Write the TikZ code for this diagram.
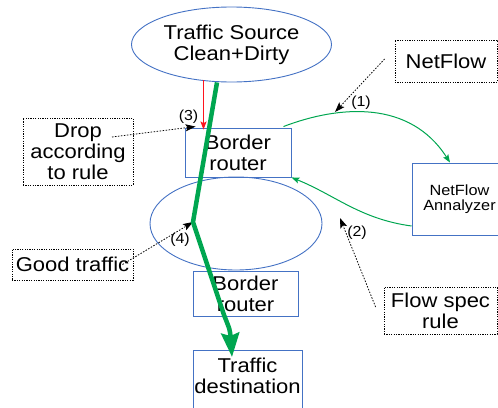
\documentclass[tikz,border=0pt]{standalone}
\usepackage{fontspec}
\setmainfont{Liberation Sans}[FakeStretch=1.1]
\usetikzlibrary{arrows.meta,calc,shapes.geometric}
\definecolor{bblue}{RGB}{68,114,196}
\definecolor{tgreen}{RGB}{0,166,80}
\definecolor{tred}{RGB}{255,20,30}
\begin{document}
\begin{tikzpicture}[x=1pt,y=-1pt,
  bigtxt/.style={font=\fontsize{20}{21}\selectfont, align=center, inner sep=0pt},
  smalltxt/.style={font=\fontsize{14.8}{15}\selectfont, align=center, inner sep=0pt},
  numtxt/.style={font=\fontsize{14.5}{15}\selectfont, inner sep=0pt},
  bluebox/.style={draw=bblue, line width=0.9pt, rectangle, inner sep=0pt},
  blueell/.style={draw=bblue, line width=0.9pt, ellipse, inner sep=0pt},
  dotbox/.style={draw=black, line width=0.8pt, dash pattern=on 1.2pt off 1.2pt, rectangle, inner sep=0pt},
  dotarrow/.style={black, line width=0.8pt, dash pattern=on 1.5pt off 1.5pt, -{Stealth[length=10pt,width=7pt,inset=2pt]}},
  thinarrow/.style={tgreen, line width=1pt, -{Stealth[length=8pt,width=6pt,inset=1.5pt]}},
  thickarrow/.style={tgreen, line width=4.5pt, -{Stealth[length=24pt,width=18pt,inset=3pt]}},
]
\useasboundingbox (0,0) rectangle (498,407);
\clip (0,0) rectangle (498,407);

% shapes
\node[blueell, bigtxt, minimum width=200pt, minimum height=75pt] (src) at (231.5,44.5) {Traffic Source\\Clean+Dirty};
\node[blueell, minimum width=172pt, minimum height=93pt] (mid) at (236,223.5) {};
\node[bluebox, bigtxt, minimum width=106pt, minimum height=49pt] (br1) at (238,152.5) {Border\\router};
\node[bluebox, bigtxt, minimum width=105pt, minimum height=45pt] (br2) at (245.5,293.5) {Border\\router};
\node[bluebox, minimum width=109pt, minimum height=70pt, anchor=north] (dest) at (247.5,350) {};
\node[bigtxt, anchor=north] (destlbl) at ($(dest.north)+(0,7.5)$) {Traffic\\destination};
\node[bluebox, smalltxt, minimum width=95pt, minimum height=72pt] (an) at (459.5,199) {NetFlow\\Annalyzer};
\node[dotbox, bigtxt, minimum width=102pt, minimum height=42pt] (nf) at (446,61) {NetFlow};
\node[dotbox, bigtxt, minimum width=113pt, minimum height=47pt] (fs) at (440.5,310.5) {Flow spec\\rule};
\node[dotbox, bigtxt, minimum width=110pt, minimum height=67pt] (drop) at (78,151.5) {Drop\\according\\to rule};
\node[dotbox, bigtxt, minimum width=121pt, minimum height=31pt] (good) at (72.5,264.5) {Good traffic};

% free ends
\coordinate (kink) at (193,222);
\coordinate (nftip) at (335,112);
\coordinate (fstip) at (340,218);

% labels
\node[numtxt] (l1) at (361,102.5) {(1)};
\node[numtxt] (l2) at (357,232.5) {(2)};
\node[numtxt] (l3) at (188.5,117) {(3)};
\node[numtxt] (l4) at (180,239.5) {(4)};

% thin green arrows
\draw[thinarrow] ($(br1.north east)+(-8,-1)$) .. controls (340,105) and (410,100) .. ($(an.north)+(-9.5,0)$);
\draw[thinarrow] ($(an.west)+(0,27)$) .. controls (360,219) and (335,195) .. (br1.south east);

% dotted pointers
\draw[dotarrow] ($(drop.center)+(34,-14.5)$) -- ($(br1.north west)+(11,-1)$);
\draw[dotarrow] ($(good.center)+(50,0)$) -- (kink);
\draw[dotarrow] ($(nf.west)+(-10,-2)$) -- (nftip);
\draw[dotarrow] ($(fs.west)+(-8,-3.5)$) -- (fstip);

% red drop arrow
\draw[tred, line width=1.2pt, -{Stealth[length=8pt,width=6pt,inset=1.5pt]}] ($(src.south)+(-28,-2)$) -- ($(br1.north)+(-34.5,2)$);

% thick traffic path
\draw[thickarrow] ($(src.south)+(-14.5,0)$) -- (kink) -- (224,315) .. controls (230,330) .. ($(dest.north)+(-15.5,7)$);
\end{tikzpicture}
\end{document}
